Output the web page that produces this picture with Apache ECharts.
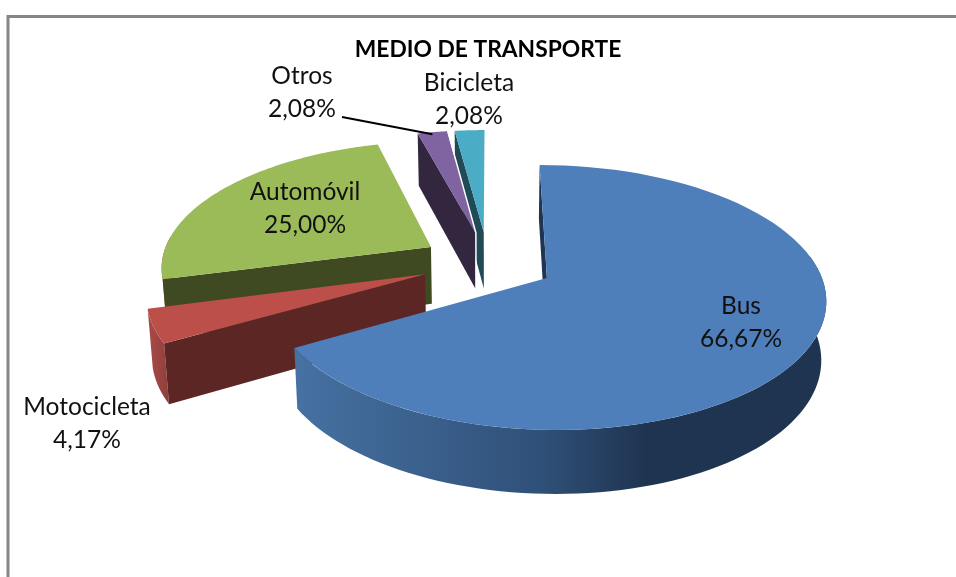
<!DOCTYPE html>
<html>
<head>
<meta charset="utf-8">
<style>
    html, body { margin: 0; padding: 0; background: #fff; }
    #chart { width: 956px; height: 577px; }
</style>
<script src="https://cdn.jsdelivr.net/npm/echarts@6/dist/echarts.min.js"></script>
</head>
<body>
<div id="chart"></div>
<script>
const categories = ['Bus', 'Motocicleta', 'Automóvil', 'Otros', 'Bicicleta'];
const shares = [66.67, 4.17, 25.00, 2.08, 2.08];

const topColors = ['#4f7fbb', '#bd4f4b', '#9bbb59', '#8064a2', '#4bacc6'];
const wallColors = ['#1f3552', '#5c2625', '#404a22', '#33263f', '#1f4a56'];
const labelAnchors = [[741, 323], [87, 424], [305, 209], [302, 93], [469, 100]];

// view of the tilted pie, fitted to the picture
const RADIUS = 275;
const TILT = 129.6;
const PERSP = 0.147;
const VANISH_X = 490;
const ORIGIN_Y = 278;
const BUS_TIP_X = 0.207;
const EXPLODE = 0.248;
const BOTTOM_SCALE = 0.985;

const rad = (deg) => deg * Math.PI / 180;
const total = shares.reduce((a, b) => a + b, 0);
const startAngles = shares.map((_, i) => shares.slice(0, i).reduce((a, b) => a + b, 0) / total * 360);

const project = (x, v) => {
    const s = 1 / (1 - PERSP * v);
    return {x: VANISH_X + x * RADIUS * s, y: ORIGIN_Y + TILT * v * s, s: s};
};
const lower = (p) => [VANISH_X + (p.x - VANISH_X) * BOTTOM_SCALE, p.y + 23 + 35 * p.s];

const myChart = echarts.init(document.getElementById('chart'), '', {renderer: 'canvas'});

const renderSlice = (params, api) => {
    const i = api.value(0);
    const a0 = startAngles[i];
    const a1 = a0 + api.value(1) / total * 360;
    const mid = (a0 + a1) / 2;

    // centre of the whole pie sits so that the Bus tip is the reference point
    const cx = BUS_TIP_X - EXPLODE * Math.sin(rad(120)) + EXPLODE * Math.sin(rad(mid));
    const cv = EXPLODE * Math.cos(rad(120)) - EXPLODE * Math.cos(rad(mid));
    const rim = (deg) => project(cx + Math.sin(rad(deg)), cv - Math.cos(rad(deg)));
    const tip = project(cx, cv);

    const base = 10 * (4 - i);
    const children = [];

    // outer side, only where it faces the viewer
    const sideFrom = Math.max(a0, 80);
    const sideTo = Math.min(a1, 275);
    if (sideTo > sideFrom) {
        const topEdge = [];
        const lowEdge = [];
        for (let a = sideFrom; a <= sideTo + 0.001; a += (sideTo - sideFrom) / 80) {
            const p = rim(a);
            topEdge.push([p.x, p.y]);
            lowEdge.unshift(lower(p));
        }
        const fill = i === 0
            ? new echarts.graphic.LinearGradient(297, 0, 647, 0, [
                {offset: 0, color: '#4671a2'},
                {offset: 0.7, color: '#2f5078'},
                {offset: 1, color: '#1f3450'}
            ], true)
            : new echarts.graphic.LinearGradient(0, 0, 1, 0, [
                {offset: 0, color: '#a94b48'},
                {offset: 1, color: '#8f3f3c'}
            ]);
        children.push({
            type: 'polygon',
            z2: base,
            shape: {points: topEdge.concat(lowEdge)},
            style: {fill: fill}
        });
    }

    // radial wall on the leading edge
    const r0 = rim(a0);
    children.push({
        type: 'polygon',
        z2: base + 1,
        shape: {points: [[r0.x, r0.y], [tip.x, tip.y], lower(tip), lower(r0)]},
        style: {fill: wallColors[i]}
    });

    // top face
    const face = [[tip.x, tip.y]];
    for (let a = a0; a <= a1 + 0.001; a += (a1 - a0) / 80) {
        const p = rim(a);
        face.push([p.x, p.y]);
    }
    children.push({
        type: 'polygon',
        z2: base + 2,
        shape: {points: face},
        style: {fill: topColors[i]}
    });

    // thin gap between Otros and Bicicleta
    if (categories[i] === 'Otros') {
        const r1 = rim(a1);
        const lowTip = lower(tip);
        children.push({
            type: 'polyline',
            z2: base + 3,
            shape: {points: [[r1.x + 0.5, r1.y], [tip.x + 0.5, tip.y], [lowTip[0] + 0.5, lowTip[1]]]},
            style: {stroke: '#fff', lineWidth: 1.5, fill: null}
        });
        const end = rim(mid);
        children.push({
            type: 'line',
            z2: 90,
            shape: {x1: 342, y1: 117, x2: end.x, y2: end.y + 2},
            style: {stroke: '#000', lineWidth: 2}
        });
    }

    children.push({
        type: 'text',
        z2: 100,
        style: {
            x: labelAnchors[i][0],
            y: labelAnchors[i][1],
            text: categories[i] + '\n' + api.value(1).toFixed(2).replace('.', ',') + '%',
            fill: '#111',
            font: '24.5px Lato',
            lineHeight: 33,
            align: 'center',
            verticalAlign: 'middle'
        }
    });

    return {type: 'group', children: children};
};

const option = {
    animation: false,
    backgroundColor: '#fff',
    title: {
        text: 'MEDIO DE TRANSPORTE',
        left: 483,
        top: 33,
        textAlign: 'center',
        textStyle: {fontFamily: 'Lato', fontWeight: 'bold', fontSize: 22.8, color: '#000'}
    },
    graphic: [{
        type: 'polyline',
        shape: {points: [[8, 577], [8, 16.5], [956, 16.5]]},
        style: {stroke: '#868686', lineWidth: 3, fill: null}
    }],
    series: [{
        type: 'custom',
        coordinateSystem: 'none',
        renderItem: renderSlice,
        data: shares.map((v, i) => [i, v])
    }]
};

myChart.setOption(option);
</script>
</body>
</html>
